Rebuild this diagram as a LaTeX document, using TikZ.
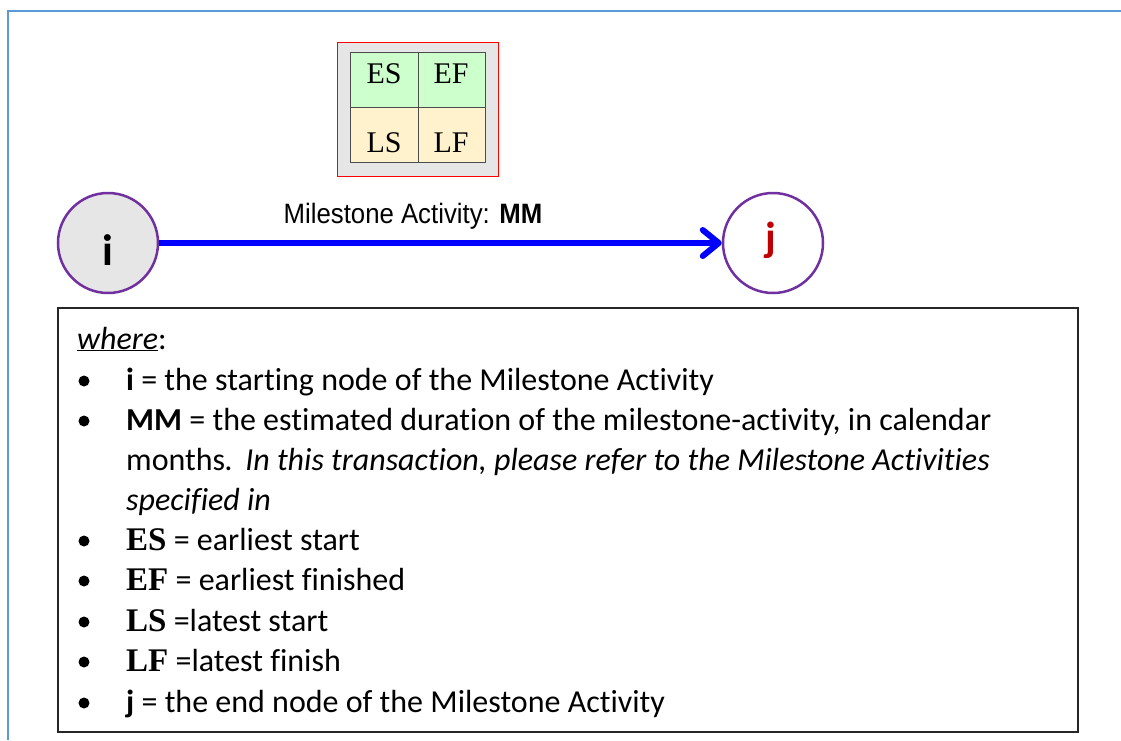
\documentclass[tikz,border=0pt]{standalone}
\usepackage{fontspec}
\setmainfont{Carlito}[Ligatures=NoCommon, RawFeature=-calt, RawFeature=-clig]
\newfontfamily\arialf{Liberation Sans}
\newfontfamily\timesf{Liberation Serif}
\newcommand\tbold[1]{{\timesf\bfseries\fontsize{33}{33}\selectfont #1}}
\usetikzlibrary{arrows.meta}
\definecolor{frameblue}{HTML}{5B9BD5}
\definecolor{nodepurple}{HTML}{7030A0}
\definecolor{jred}{HTML}{C00000}
\definecolor{cellgreen}{HTML}{CCFFCC}
\definecolor{cellyellow}{HTML}{FFF2CC}
\definecolor{boxgray}{HTML}{E6E6E6}
\begin{document}
\begin{tikzpicture}[x=1pt,y=-1pt,
  evt/.style={circle, draw=nodepurple, line width=2.5pt, minimum size=100pt, inner sep=0pt},
  cell/.style={draw=black!70, line width=1pt, minimum width=67.5pt, minimum height=55pt, inner sep=0pt, anchor=north west},
  celltxt/.style={inner sep=0pt, font=\timesf\fontsize{30}{30}\selectfont},
  txtline/.style={anchor=base west, inner sep=0pt, font=\fontsize{32}{38}\selectfont},
  bul/.style={circle, fill=black, minimum size=11pt, inner sep=0pt}
]
\useasboundingbox (0,0) rectangle (1121,740);
\draw[frameblue, line width=2pt] (1121,11) -- (8,11) -- (8,740);
% ES/EF/LS/LF key
\node[draw=red, fill=boxgray, line width=1pt, minimum width=161pt, minimum height=134pt, anchor=north west, inner sep=0pt] (key) at (337,42) {};
\node[cell, fill=cellgreen] (es) at (350,52) {};
\node[cell, fill=cellgreen] (ef) at (417.5,52) {};
\node[cell, fill=cellyellow] (ls) at (350,107) {};
\node[cell, fill=cellyellow] (lf) at (417.5,107) {};
\node[celltxt] (esT) at (384,74) {ES};
\node[celltxt] (efT) at (451,74) {EF};
\node[celltxt] (lsT) at (384,143) {LS};
\node[celltxt] (lfT) at (451,143) {LF};
% events
\node[evt, fill=boxgray] (i) at (108,243) {};
\node[font=\bfseries\fontsize{44}{44}\selectfont, inner sep=0pt, anchor=base] (iT) at (108,265) {i};
\node[evt, fill=white] (j) at (773,243) {};
\node[font=\bfseries\fontsize{42}{42}\selectfont, text=jred, inner sep=0pt, anchor=base] (jT) at (771,251) {j};
\draw[blue, line width=6pt, -{Straight Barb[length=16pt, width=26pt, round]}] (i) -- (j);
\node[anchor=base, inner sep=0pt, font=\arialf\fontsize{28}{28}\selectfont] (lbl) at (413,223) {\scalebox{0.92}[1]{Milestone Activity: \textbf{MM}}};
% description
\node[draw=black!85, line width=1.5pt, fill=white, anchor=north west, minimum width=1020pt, minimum height=424pt, inner sep=0pt] (desc) at (57,307) {};
\node[txtline] (l0) at (77,349) {\textit{\underline{where}}:};
\node[bul] (b1) at (84,381) {};
\node[txtline] (l1) at (126,390) {\textbf{i} = the starting node of the Milestone Activity};
\node[bul] (b2) at (84,421) {};
\node[txtline] (l2) at (126,430) {\textbf{MM} = the estimated duration of the milestone-activity, in calendar};
\node[txtline] (l3) at (126,470) {months\textit{.\hspace{12pt}In this transaction, please refer to the Milestone Activities}};
\node[txtline] (l4) at (126,510) {\textit{specified in}};
\node[bul] (b5) at (84,541) {};
\node[txtline] (l5) at (126,550) {\tbold{ES} = earliest start};
\node[bul] (b6) at (84,581) {};
\node[txtline] (l6) at (126,590) {\tbold{EF} = earliest finished};
\node[bul] (b7) at (84,622) {};
\node[txtline] (l7) at (126,631) {\tbold{LS} =latest start};
\node[bul] (b8) at (84,662) {};
\node[txtline] (l8) at (126,671) {\tbold{LF} =latest finish};
\node[bul] (b9) at (84,703) {};
\node[txtline] (l9) at (126,712) {\textbf{j} = the end node of the Milestone Activity};
\end{tikzpicture}
\end{document}
